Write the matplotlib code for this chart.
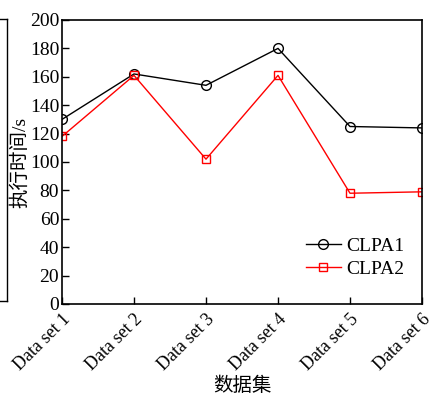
import matplotlib.pyplot as plt
from matplotlib.lines import Line2D

datasets = ['Data set 1', 'Data set 2', 'Data set 3', 'Data set 4', 'Data set 5', 'Data set 6']
clpa1 = [130, 162, 154, 180, 125, 124]
clpa2 = [118, 161, 102, 161, 78, 79]

serif = ['Liberation Serif', 'Noto Sans CJK SC']
plt.rcParams['font.family'] = serif

fig = plt.figure(figsize=(4.29, 4.01), dpi=100)
ax = fig.add_axes([62 / 429, 1 - 304 / 401, 360 / 429, 284 / 401])

x = list(range(len(datasets)))
ax.plot(x, clpa1, color='black', lw=1, marker='o', ms=7, mfc='none', mec='black', mew=1, label='CLPA1')
ax.plot(x, clpa2, color='red', lw=1, marker='s', ms=6, mfc='none', mec='red', mew=1, label='CLPA2')

ax.set_xlim(0, 5)
ax.set_ylim(0, 200)
ax.set_yticks(range(0, 201, 20))
ax.set_xticks(x)
ax.set_xticklabels(datasets, rotation=45, ha='right', rotation_mode='anchor', fontsize=13)
ax.tick_params(axis='both', direction='in', length=5, width=1, top=False, right=False)
ax.tick_params(axis='y', labelsize=14, pad=2)
ax.tick_params(axis='x', pad=5)
for s in ax.spines.values():
    s.set_linewidth(1.2)

ax.set_ylabel('执行时间/s', fontsize=14)
ax.yaxis.set_label_coords(-0.092, 0.5)
ax.set_xlabel('数据集', fontsize=14, labelpad=2)

ax.legend(loc='lower right', bbox_to_anchor=(1.0, 0.03), frameon=False, fontsize=14,
          handlelength=1.8, handletextpad=0.3, labelspacing=0.3)

# cropped bracket at the left edge
fig.add_artist(Line2D([7 / 429, 7 / 429], [1 - 19 / 401, 1 - 301 / 401], color='black', lw=1))
fig.add_artist(Line2D([0, 7 / 429], [1 - 19 / 401, 1 - 19 / 401], color='black', lw=1))
fig.add_artist(Line2D([0, 7 / 429], [1 - 301 / 401, 1 - 301 / 401], color='black', lw=1))

fig.savefig('out.png', dpi=100, facecolor='white')
